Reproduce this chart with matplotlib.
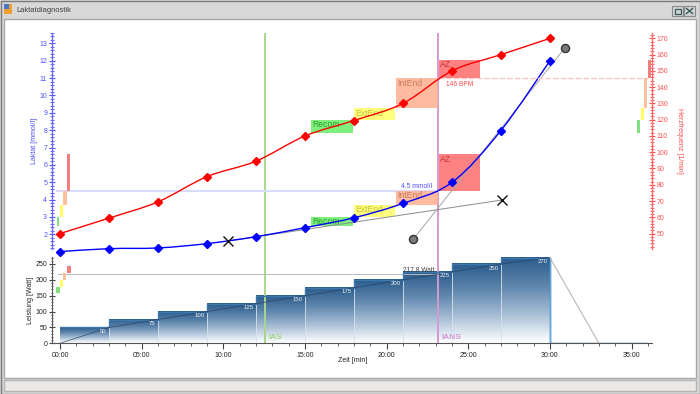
import numpy as np
import matplotlib
matplotlib.use("Agg")
import matplotlib.pyplot as plt
from matplotlib.path import Path
from matplotlib.patches import PathPatch, Rectangle
from matplotlib.colors import LinearSegmentedColormap
from matplotlib.ticker import MultipleLocator, FuncFormatter

plt.rcParams["font.family"] = ["Liberation Sans", "DejaVu Sans"]

# ---------------- data ----------------
stage_time = [0, 3, 6, 9, 12, 15, 18, 21, 24, 27, 30]
lactate = [1.0, 1.17, 1.21, 1.46, 1.86, 2.38, 2.95, 3.78, 4.99, 7.98, 12.0]
heart_rate = [50, 59.5, 69.5, 85, 94.5, 110, 119.5, 130, 150, 160, 170]

power_edges = [0, 3, 6, 9, 12, 15, 18, 21, 24, 27, 30, 36]
power = [50, 75, 100, 125, 150, 175, 200, 225, 250, 270, 0]
power_labels = ["50", "75", "100", "125", "150", "175", "200", "225", "250", "270"]
ramp_time = [0, 3, 6, 9, 12, 15, 18, 21, 24, 27, 30]
ramp_power = [0, 50, 75, 100, 125, 150, 175, 200, 225, 250, 270]
recovery_time = [30, 33]
recovery_power = [270, 0]

ias_time = 12.55
ians_time = 23.17
ians_lactate = 4.5
ians_hr = 146
ians_power = 217.8

cross_time = [10.29, 27.04]
cross_lactate = [1.61, 3.97]
circle_time = [21.63, 30.92]
circle_lactate = [1.71, 12.75]

zone_names = ["Recom", "ExtEnd", "IntEnd", "AZ"]
lactate_zones = [(2.5, 3.0), (3.0, 3.7), (3.7, 4.5), (4.5, 6.6)]
hr_zones = [(112, 120), (120, 127), (127, 145.5), (145.5, 157)]
power_zones = [(157, 178), (178, 200), (200, 221), (221, 245)]

xtick_labels = ["00:00", "05:00", "10:00", "15:00", "20:00", "25:00", "30:00", "35:00"]

# ---------------- style ----------------
zone_colors = ["#66ee66", "#ffff66", "#ffb090", "#ff6c6c"]
zone_text_colors = ["#2f9e2f", "#c4c43a", "#c77a5a", "#c43434"]
zone_bar_colors = ["#80e080", "#ffff60", "#ffc0a0", "#f08080"]
BLUE = "#0000ff"
RED = "#ff0000"
FS = 5.0

W, H = 700, 394
fig = plt.figure(figsize=(7.0, 3.94), dpi=100)

# --- window chrome (pixel coordinates) ---
bg = fig.add_axes([0, 0, 1, 1], zorder=-10)
bg.add_patch(Rectangle((0, 0), W, H, fc="#d8d8d8", ec="none"))
tgrad = np.linspace(0, 1, 32).reshape(-1, 1)
bg.imshow(tgrad, extent=[1, W - 1, 19, 1], cmap=LinearSegmentedColormap.from_list("t", ["#f4f4f4", "#d2d2d2"]),
          aspect="auto", origin="upper")
bg.set_xlim(0, W)
bg.set_ylim(H, 0)
bg.axis("off")
bg.add_patch(Rectangle((0.5, 0.5), W - 1, H - 1, fc="none", ec="#7a7a7a", lw=1))
bg.add_patch(Rectangle((4, 19), W - 8, 359, fc="white", ec="#a8a8a8", lw=1))
bg.add_patch(Rectangle((4, 380), W - 8, 11, fc="#ebe9e5", ec="#b4b4b4", lw=1))
bg.add_patch(Rectangle((4, 4), 8, 10, fc="#f0a030", ec="none"))
bg.add_patch(Rectangle((4, 4), 5, 5, fc="#4a78c8", ec="none"))
bg.text(16, 10, "Laktatdiagnostik", fontsize=5.4, color="#404040", va="center", ha="left")
bg.add_patch(Rectangle((672, 6), 11, 10, fc="#cfd3d3", ec="#8a8a8a", lw=0.8))
bg.add_patch(Rectangle((684, 6), 11, 10, fc="#cfd3d3", ec="#8a8a8a", lw=0.8))
bg.add_patch(Rectangle((674.5, 8.5), 6, 5, fc="none", ec="#3a5a5a", lw=0.9))
bg.plot([686.5, 692.5], [8.5, 13.5], color="#3a5a5a", lw=1)
bg.plot([686.5, 692.5], [13.5, 8.5], color="#3a5a5a", lw=1)

def fx(px):
    return px / W

def fy(py):
    return 1 - py / H

# --- axes ---
ax = fig.add_axes([fx(52), fy(249), fx(652) - fx(52), fy(33) - fy(249)])
axp = fig.add_axes([fx(52), fy(343.3), fx(652) - fx(52), fy(257) - fy(343.3)], sharex=ax)
hr = ax.twinx()
for a in (ax, axp):
    a.set_facecolor("none")

XMIN, XMAX = -0.49, 36.25

# ---------- top panel ----------
ax.axvline(ias_time, color="#a8d88a", lw=1.4, zorder=1)
ax.axvline(ians_time, color="#d49ad4", lw=1.4, zorder=1)
ax.plot([-0.2, ians_time], [ians_lactate, ians_lactate], color="#d8dcff", lw=1.5, zorder=1)
ax.text(ians_time - 0.4, ians_lactate + 0.06, "4.5 mmol/l", color="#4f4fff", fontsize=4.8,
        ha="right", va="bottom", zorder=6)

box_w = 2.6
box_lefts = [ians_time - (3 - i) * box_w for i in range(4)]

for i, (lo, hi) in enumerate(lactate_zones):
    ax.add_patch(Rectangle((box_lefts[i] + 0.03, lo), box_w - 0.06, hi - lo, fc=zone_colors[i],
                           ec="none", alpha=0.85, zorder=2))
    ax.text(box_lefts[i] + 0.08, hi - 0.02, zone_names[i], color=zone_text_colors[i], fontsize=6.2,
            ha="left", va="top", zorder=3)

lz_x = [-0.12, 0.08, 0.31, 0.52]
lz_w = [0.17, 0.17, 0.2, 0.22]
for i, (lo, hi) in enumerate(lactate_zones):
    ax.bar(lz_x[i], hi - lo, bottom=lo, width=lz_w[i], color=zone_bar_colors[i], zorder=2)

ax.plot(cross_time, cross_lactate, color="#8c8c8c", lw=0.7, zorder=3)
ax.plot(circle_time, circle_lactate, color="#a6a6a6", lw=0.7, zorder=3)

def smooth_path(x, y):
    x = np.asarray(x, float)
    y = np.asarray(y, float)
    n = len(x)
    verts = [(x[0], y[0])]
    codes = [Path.MOVETO]
    for i in range(n - 1):
        xa, ya = (x[i - 1], y[i - 1]) if i > 0 else (x[i], y[i])
        xd, yd = (x[i + 2], y[i + 2]) if i + 2 < n else (x[i + 1], y[i + 1])
        c1 = (x[i] + (x[i + 1] - xa) / 6, y[i] + (y[i + 1] - ya) / 6)
        c2 = (x[i + 1] - (xd - x[i]) / 6, y[i + 1] - (yd - y[i]) / 6)
        verts += [c1, c2, (x[i + 1], y[i + 1])]
        codes += [Path.CURVE4] * 3
    return Path(verts, codes)

ax.add_patch(PathPatch(smooth_path(stage_time, lactate), fc="none", ec=BLUE, lw=1.0, zorder=4,
                       clip_on=False))
ax.plot(stage_time, lactate, ls="none", marker="D", ms=4.2, color=BLUE, zorder=5, clip_on=False)
ax.plot(cross_time, cross_lactate, ls="none", marker="x", ms=7.5, mew=1.0, color="#111111", zorder=6)
ax.plot(circle_time, circle_lactate, ls="none", marker="o", ms=5.8, mfc="#7a7a7a", mec="#333333",
        mew=1.0, zorder=6, clip_on=False)

ax.set_xlim(XMIN, XMAX)
ax.set_ylim(1.15, 13.6)
ax.yaxis.set_major_locator(MultipleLocator(1))
ax.yaxis.set_minor_locator(MultipleLocator(0.2))
ax.tick_params(axis="y", which="major", direction="inout", length=4, width=0.8, colors="#5050ff",
               labelsize=FS, pad=1.5)
ax.tick_params(axis="y", which="minor", direction="inout", length=2.4, width=0.6, colors="#5050ff")
ax.xaxis.set_visible(False)
for s in ("top", "bottom", "right"):
    ax.spines[s].set_visible(False)
ax.spines["left"].set_color("#6a6aff")
ax.spines["left"].set_linewidth(1.0)

# heart rate (twin)
for i, (lo, hi) in enumerate(hr_zones):
    hr.add_patch(Rectangle((box_lefts[i] + 0.03, lo), box_w - 0.06, hi - lo, fc=zone_colors[i],
                           ec="none", alpha=0.85, zorder=2))
    hr.text(box_lefts[i] + 0.08, hi - 0.3, zone_names[i], color=zone_text_colors[i], fontsize=6.2,
            ha="left", va="top", zorder=3)
hz_x = [35.42, 35.66, 35.87, 36.1]
hz_w = [0.2, 0.17, 0.16, 0.2]
for i, (lo, hi) in enumerate(hr_zones):
    hr.bar(hz_x[i], hi - lo, bottom=lo, width=hz_w[i], color=zone_bar_colors[i], zorder=2)
hr.plot([ians_time, 36.0], [hr_zones[3][0], hr_zones[3][0]], color="#ffc8c8", lw=1.0,
        ls=(0, (4, 1.5)), zorder=1)
hr.text(ians_time + 0.45, hr_zones[3][0] - 1.5, "%d BPM" % ians_hr, color="#ff4a4a", fontsize=4.8,
        ha="left", va="top", zorder=6)
hr.add_patch(PathPatch(smooth_path(stage_time, heart_rate), fc="none", ec=RED, lw=1.0, zorder=4))
hr.plot(stage_time, heart_rate, ls="none", marker="D", ms=4.2, color=RED, zorder=5, clip_on=False)
hr.set_ylim(40.5, 173.3)
hr.yaxis.set_major_locator(MultipleLocator(10))
hr.yaxis.set_minor_locator(MultipleLocator(2))
hr.tick_params(axis="y", which="major", direction="inout", length=4, width=0.8, colors="#ff5050",
               labelsize=FS, pad=1.5)
hr.tick_params(axis="y", which="minor", direction="inout", length=2.4, width=0.6, colors="#ff5050")
for s in ("top", "bottom", "left"):
    hr.spines[s].set_visible(False)
hr.spines["right"].set_color("#ff6a6a")
hr.spines["right"].set_linewidth(1.0)

# ---------- bottom panel (power) ----------
cmap = LinearSegmentedColormap.from_list("pw", ["#ffffff", "#a9bfd6", "#5f86ad", "#2b5c8c"])
grad = np.linspace(0, 1, 80).reshape(-1, 1)
for i in range(len(power) - 1):
    x0, x1 = power_edges[i], power_edges[i + 1]
    axp.imshow(grad, extent=[x0, x1, 0, power[i]], cmap=cmap, aspect="auto", origin="lower",
               interpolation="bilinear", zorder=1)
    axp.text(x1 - 0.15, power[i] - 5, power_labels[i], color="#eef3f8", fontsize=4.3,
             ha="right", va="top", zorder=4)
for i in range(1, len(power) - 1):
    axp.plot([power_edges[i]] * 2, [0, min(power[i - 1], power[i])], color="#d6e2ee", lw=0.6, zorder=2)
axp.stairs(power, power_edges, baseline=None, color="#3d78ad", lw=1.0, zorder=3)
axp.plot([power_edges[-2]] * 2, [0, power[-2]], color="#5fa8dc", lw=1.0, zorder=3)
axp.plot(ramp_time, ramp_power, color="#24405e", lw=0.6, alpha=0.75, zorder=3)
axp.plot(recovery_time, recovery_power, color="#b0b0b0", lw=0.7, zorder=3)
axp.plot([-0.1, ians_time], [ians_power, ians_power], color="#b8b8b8", lw=0.7, zorder=2)
axp.text(ians_time - 0.2, ians_power + 2, "217.8 Watt", color="#404040", fontsize=4.8, ha="right",
         va="bottom", zorder=5)
pz_x = [-0.12, 0.09, 0.29, 0.54]
for i, (lo, hi) in enumerate(power_zones):
    axp.bar(pz_x[i], hi - lo, bottom=lo, width=0.21, color=zone_bar_colors[i], zorder=2)

axp.axvline(ias_time, ymin=0, ymax=1.11, color="#a8d88a", lw=1.4, zorder=1, clip_on=False)
axp.axvline(ians_time, ymin=0, ymax=1.11, color="#d49ad4", lw=1.4, zorder=1, clip_on=False)
axp.text(ias_time + 0.2, 8, "IAS", color="#a8d88a", fontsize=6.0, fontweight="bold", ha="left",
         va="bottom", zorder=5)
axp.text(ians_time + 0.2, 8, "IANS", color="#d49ad4", fontsize=6.0, fontweight="bold", ha="left",
         va="bottom", zorder=5)

axp.set_xlim(XMIN, XMAX)
axp.set_ylim(0, 272)
axp.xaxis.set_major_locator(MultipleLocator(5))
axp.xaxis.set_minor_locator(MultipleLocator(1))
axp.xaxis.set_major_formatter(FuncFormatter(lambda v, p: xtick_labels[int(round(v / 5))]
                                            if 0 <= int(round(v / 5)) < len(xtick_labels) else ""))
axp.yaxis.set_major_locator(MultipleLocator(50))
axp.yaxis.set_minor_locator(MultipleLocator(10))
axp.tick_params(axis="x", which="major", direction="out", length=4, width=0.8, colors="#444444",
                labelsize=FS, pad=2)
axp.tick_params(axis="x", which="minor", direction="out", length=2, width=0.6, colors="#444444")
axp.tick_params(axis="y", which="major", direction="inout", length=4, width=0.8, colors="#444444",
                labelsize=FS, pad=1.5)
axp.tick_params(axis="y", which="minor", direction="inout", length=2, width=0.6, colors="#444444")
for lab in axp.get_xticklabels() + axp.get_yticklabels():
    lab.set_color("#222222")
for s in ("top", "right"):
    axp.spines[s].set_visible(False)
axp.spines["left"].set_color("#555555")
axp.spines["bottom"].set_color("#555555")

# axis titles
bg.text(35, 141, "Laktat [mmol/l]", rotation=90, color="#4a4aff", fontsize=5.0, ha="center", va="center")
bg.text(679, 141, "Herzfrequenz [1/min]", rotation=270, color="#ff4a4a", fontsize=5.0, ha="center",
        va="center")
bg.text(31, 300, "Leistung [Watt]", rotation=90, color="#222222", fontsize=5.0, ha="center", va="center")
bg.text(353, 361, "Zeit [min]", color="#222222", fontsize=5.0, ha="center", va="center")

fig.savefig("out.png", dpi=100)
